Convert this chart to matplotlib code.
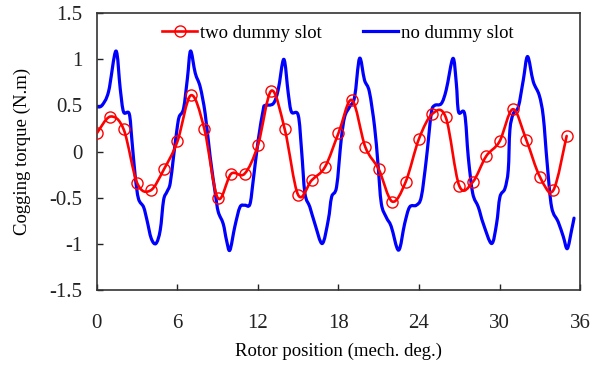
import matplotlib
matplotlib.use("Agg")
import matplotlib.pyplot as plt
from matplotlib.path import Path
from matplotlib.patches import PathPatch
from matplotlib.lines import Line2D

# Red series: two dummy slot (sampled every 1 mech. deg.)
red_x = list(range(36))
red_y = [0.20, 0.38, 0.24, -0.34, -0.42, -0.19, 0.11, 0.61, 0.25, -0.50,
         -0.24, -0.24, 0.07, 0.66, 0.24, -0.47, -0.31, -0.165, 0.20, 0.56,
         0.05, -0.19, -0.54, -0.33, 0.14, 0.41, 0.37, -0.37, -0.33, -0.05,
         0.11, 0.46, 0.125, -0.27, -0.42, 0.17]

# Blue series: no dummy slot (traced)
blue_x = [0, 0.37, 0.87, 1.42, 1.74, 1.99, 2.41, 2.61, 2.86, 3.1, 3.48, 3.73,
          4.05, 4.4, 4.72, 4.97, 5.22, 5.46, 5.71, 5.96, 6.13, 6.46, 6.75, 6.98,
          7.33, 7.7, 8.07, 8.44, 8.82, 9.04, 9.41, 9.66, 9.91, 10.28, 10.66,
          11.03, 11.4, 11.65, 12.02, 12.39, 12.52, 13.14, 13.51, 13.93, 14.26,
          14.5, 15.0, 15.25, 15.5, 15.87, 16.24, 16.79, 17.24, 17.49, 17.86,
          18.2, 18.46, 18.83, 19.2, 19.57, 19.94, 20.3, 20.69, 20.94, 21.19,
          21.56, 21.93, 22.48, 22.93, 23.3, 23.8, 24.17, 24.54, 24.91, 25.16,
          25.66, 26.03, 26.53, 26.78, 26.95, 27.4, 27.67, 28.0, 28.42, 28.79,
          29.41, 29.78, 30.03, 30.4, 30.65, 30.77, 31.02, 31.4, 31.77, 32.09,
          32.51, 32.96, 33.26, 33.55, 33.88, 34.37, 34.75, 35.05, 35.37, 35.55]
blue_y = [0.485, 0.50, 0.65, 1.09, 0.68, 0.43, 0.41, 0.125, -0.27, -0.51, -0.60,
          -0.74, -0.94, -0.995, -0.85, -0.525, -0.435, -0.345, -0.056, 0.233,
          0.377, 0.468, 0.80, 1.09, 0.85, 0.70, 0.41, -0.056, -0.45, -0.65,
          -0.78, -0.96, -1.067, -0.81, -0.60, -0.58, -0.57, -0.31, 0.125, 0.45,
          0.50, 0.52, 0.67, 1.00, 0.63, 0.43, 0.395, 0.016, -0.45, -0.60, -0.78,
          -0.995, -0.74, -0.49, -0.38, 0.125, 0.377, 0.485, 0.59, 1.01, 0.775,
          0.65, 0.27, -0.128, -0.56, -0.71, -0.81, -1.067, -0.78, -0.60, -0.58,
          -0.49, -0.09, 0.41, 0.50, 0.52, 0.67, 1.01, 0.74, 0.43, 0.41, -0.056,
          -0.45, -0.60, -0.78, -0.995, -0.78, -0.49, -0.40, -0.20, 0.233, 0.41,
          0.485, 0.775, 1.03, 0.76, 0.61, 0.377, -0.128, -0.60, -0.76, -0.92,
          -1.05, -0.85, -0.72]

x_ticks = [0, 6, 12, 18, 24, 30, 36]
y_ticks = [-1.5, -1, -0.5, 0, 0.5, 1, 1.5]
y_tick_labels = ["-1.5", "-1", "-0.5", "0", "0.5", "1", "1.5"]

RED = '#ff0000'
BLUE = '#0000ff'

plt.rcParams['font.family'] = ['Liberation Serif', 'DejaVu Serif']


def smooth_path(xs, ys):
    """Spreadsheet-style smoothed line through the given points (Bezier path)."""
    pts = list(zip(xs, ys))
    n = len(pts)
    verts = [pts[0]]
    codes = [Path.MOVETO]
    for i in range(n - 1):
        p0 = pts[i - 1] if i > 0 else pts[i]
        p1 = pts[i]
        p2 = pts[i + 1]
        p3 = pts[i + 2] if i + 2 < n else pts[i + 1]
        c1 = (p1[0] + (p2[0] - p0[0]) / 6.0, p1[1] + (p2[1] - p0[1]) / 6.0)
        c2 = (p2[0] - (p3[0] - p1[0]) / 6.0, p2[1] - (p3[1] - p1[1]) / 6.0)
        verts += [c1, c2, p2]
        codes += [Path.CURVE4] * 3
    return Path(verts, codes)


fig = plt.figure(figsize=(5.98, 3.65), dpi=100)
ax = fig.add_axes([0.162, 0.205, 0.808, 0.759])

ax.add_patch(PathPatch(smooth_path(blue_x, blue_y), fill=False, edgecolor=BLUE,
                       lw=2.3, capstyle='round', joinstyle='round', zorder=2))
ax.add_patch(PathPatch(smooth_path(red_x, red_y), fill=False, edgecolor=RED,
                       lw=1.9, capstyle='round', joinstyle='round', zorder=3))
ax.plot(red_x, red_y, ls='none', marker='o', ms=8, mfc='none', mec=RED,
        mew=1.0, zorder=4)

ax.set_xlim(0, 36)
ax.set_ylim(-1.5, 1.5)
ax.set_xticks(x_ticks)
ax.set_xticklabels([str(t) for t in x_ticks])
ax.set_yticks(y_ticks)
ax.set_yticklabels(y_tick_labels)
ax.tick_params(direction='in', length=4, width=1, labelsize=15, colors='#222222')
ax.tick_params(axis='x', pad=17)
ax.tick_params(axis='y', pad=10.5)
for s in ax.spines.values():
    s.set_linewidth(1.2)
    s.set_color('#333333')

ax.set_xlabel('Rotor position (mech. deg.)', fontsize=13.5, labelpad=7)
ax.set_ylabel('Cogging torque (N.m)', fontsize=13.5, labelpad=13)

handles = [Line2D([], [], color=RED, lw=1.9, marker='o', ms=8, mfc='none',
                  mec=RED, mew=1.0),
           Line2D([], [], color=BLUE, lw=2.3)]
ax.legend(handles, ['two dummy slot', 'no dummy slot'], loc='upper center',
          ncol=2, frameon=False, fontsize=13.5, handlelength=1.9,
          handletextpad=0.12, columnspacing=2.2, bbox_to_anchor=(0.498, 1.02))

fig.savefig('out.png', dpi=100)
